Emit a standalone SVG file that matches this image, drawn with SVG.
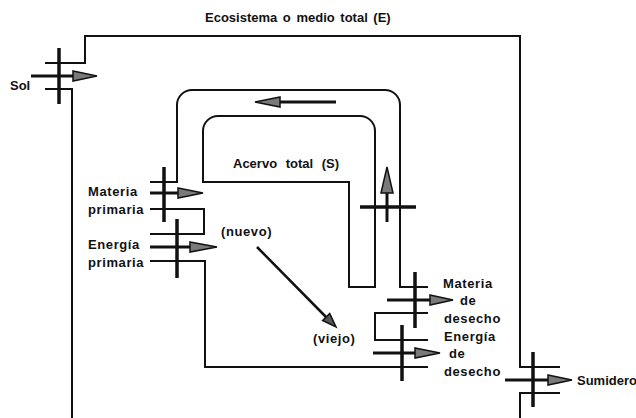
<svg xmlns="http://www.w3.org/2000/svg" width="636" height="418" viewBox="0 0 636 418">
<style>
text{font-family:"Liberation Sans",Arial,sans-serif;font-size:13px;font-weight:bold;fill:#111;word-spacing:2px}
.lb{letter-spacing:0.6px}
.ln{fill:none;stroke:#111;stroke-width:2}
.bar{stroke:#111;stroke-width:3.5;fill:none}
.sh{stroke:#111;stroke-width:3;fill:none}
.hd{fill:#7a7a7a;stroke:#111;stroke-width:1.5;stroke-linejoin:miter}
</style>
<rect width="636" height="418" fill="#fff"/>
<g id="ecosistema">
<text x="205" y="22">Ecosistema o medio total (E)</text>
<path class="ln" d="M45,63 H85 V36 H520 V367 H560"/>
<path class="ln" d="M45,89 H72 V418"/>
<path class="ln" d="M560,393 H520 V418"/>
</g>
<g id="sol">
<text x="10" y="90">Sol</text>
<line class="bar" x1="59" y1="48" x2="59" y2="104"/>
</g>
<g id="acervo">
<path class="ln" d="M203,182 V131 A15,15 0 0 1 218,116 H360 A15,15 0 0 1 375,131 V287 H349 V182 Z"/>
<text x="233" y="168" style="word-spacing:5px">Acervo total (S)</text>
<path class="ln" d="M150,182 H177 V105 A15,15 0 0 1 192,90 H385 A15,15 0 0 1 400,105 V287 H428"/>
<line class="bar" x1="360" y1="207" x2="416" y2="207"/>
</g>
<g id="materia-primaria">
<text class="lb" x="88" y="196">Materia</text>
<text class="lb" x="88" y="214">primaria</text>
<path class="ln" d="M150,209 H204 V234 H150"/>
<line class="bar" x1="164" y1="167" x2="164" y2="222"/>
</g>
<g id="energia-primaria">
<text class="lb" x="88" y="249">Energía</text>
<text class="lb" x="88" y="267">primaria</text>
<path class="ln" d="M150,261 H205 V367 H428"/>
<line class="bar" x1="177" y1="219" x2="177" y2="278"/>
</g>
<g id="edad">
<text class="lb" x="221" y="236">(nuevo)</text>
<text class="lb" x="313" y="343">(viejo)</text>
</g>
<g id="materia-desecho">
<text class="lb" x="443" y="288">Materia</text>
<text class="lb" x="460" y="305">de</text>
<text class="lb" x="444" y="323">desecho</text>
<path class="ln" d="M428,313 H375 V340 H428"/>
<line class="bar" x1="415" y1="272" x2="415" y2="328"/>
</g>
<g id="energia-desecho">
<text class="lb" x="444" y="341">Energía</text>
<text class="lb" x="449" y="358">de</text>
<text class="lb" x="444" y="376">desecho</text>
<line class="bar" x1="402" y1="325" x2="402" y2="381"/>
</g>
<g id="sumidero">
<text x="577" y="385">Sumidero</text>
<line class="bar" x1="533" y1="352" x2="533" y2="407"/>
</g>
<g id="connectors">
<line class="sh" x1="31" y1="76" x2="75" y2="76"/>
<polygon class="hd" points="73,71 97,76 73,81"/>
<line class="sh" x1="150" y1="193" x2="180" y2="193"/>
<polygon class="hd" points="178,188 203,193 178,198"/>
<line class="sh" x1="150" y1="247" x2="192" y2="247"/>
<polygon class="hd" points="190,242 217,247 190,252"/>
<line class="sh" x1="336" y1="102" x2="278" y2="102"/>
<polygon class="hd" points="280,97 255,102 280,107"/>
<line class="sh" x1="387" y1="222" x2="387" y2="191"/>
<polygon class="hd" points="381,193 387,167 393,193"/>
<line class="sh" x1="387" y1="300" x2="432" y2="300"/>
<polygon class="hd" points="430,295 453,300 430,305"/>
<line class="sh" x1="373" y1="353" x2="417" y2="353"/>
<polygon class="hd" points="415,348 440,353 415,358"/>
<line class="sh" x1="505" y1="380" x2="550" y2="380"/>
<polygon class="hd" points="548,375 572,380 548,385"/>
<line x1="257" y1="247" x2="328" y2="319" stroke="#111" stroke-width="2.5"/>
<polygon points="322.6,320.5 329.7,313.5 336,327" fill="#555" stroke="#111" stroke-width="1.5"/>
</g>
</svg>
